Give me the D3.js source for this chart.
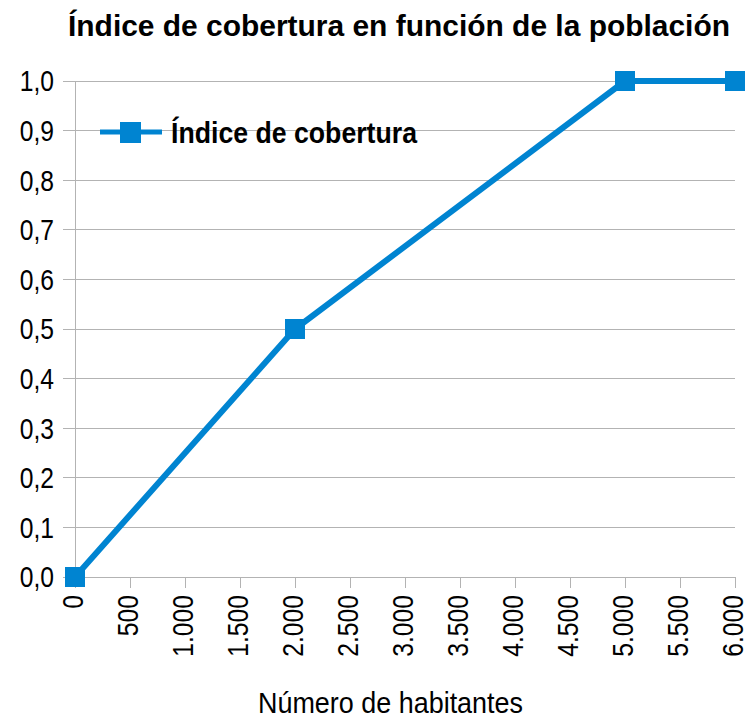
<!DOCTYPE html>
<html><head><meta charset="utf-8">
<script src="https://cdn.jsdelivr.net/npm/d3@7"></script>
<style>body{margin:0;background:#fff}svg{display:block}text{font-family:"Liberation Sans Narrow","Liberation Sans","Arial Narrow",sans-serif}</style>
</head><body>
<script>
const title = "Índice de cobertura en función de la población";
const seriesName = "Índice de cobertura";
const xLabel = "Número de habitantes";
const xValues = [0, 2000, 5000, 6000];
const yValues = [0, 0.5, 1.0, 1.0];
const xTicks = [0,500,1000,1500,2000,2500,3000,3500,4000,4500,5000,5500,6000];
const yTicks = [0,0.1,0.2,0.3,0.4,0.5,0.6,0.7,0.8,0.9,1.0];

const W = 749, H = 722;
const svg = d3.select("body").append("svg").attr("width", W).attr("height", H);
const x = d3.scaleLinear().domain([0, 6000]).range([75, 735]);
const y = d3.scaleLinear().domain([0, 1]).range([577, 81]);
const color = "#0084d1";
const fmtX = d3.formatLocale({decimal:",", thousands:".", grouping:[3], currency:["",""]}).format(",d");
const fmtY = v => d3.format(".1f")(v).replace(".", ",");
const SX = 0.85;

// gridlines
svg.append("g").selectAll("line").data(yTicks).join("line")
  .attr("x1", 63).attr("x2", 735).attr("y1", d => y(d)).attr("y2", d => y(d))
  .attr("stroke", "#b3b3b3").attr("stroke-width", 1).attr("shape-rendering","crispEdges");
// y axis line
svg.append("line").attr("x1", 75).attr("x2", 75).attr("y1", y(1)).attr("y2", y(0))
  .attr("stroke", "#b3b3b3").attr("shape-rendering","crispEdges");
// x ticks
svg.append("g").selectAll("line").data(xTicks).join("line")
  .attr("x1", d => x(d)).attr("x2", d => x(d)).attr("y1", y(0)).attr("y2", y(0) + 11)
  .attr("stroke", "#b3b3b3").attr("shape-rendering","crispEdges");
// y labels
svg.append("g").selectAll("text").data(yTicks).join("text")
  .attr("transform", d => `translate(54,${y(d)}) scale(${SX},1)`)
  .attr("dy", "0.36em").attr("text-anchor", "end")
  .attr("font-size", 29).attr("fill", "#000").text(fmtY);
// x labels
svg.append("g").selectAll("text").data(xTicks).join("text")
  .attr("transform", d => `translate(${x(d)},595) rotate(-90) scale(${SX},1)`)
  .attr("dy", "0.29em").attr("text-anchor", "end")
  .attr("font-size", 29).attr("fill", "#000").text(d => fmtX(d));
// x axis title
svg.append("text").attr("x", 258).attr("y", 713)
  .attr("textLength", 265).attr("lengthAdjust", "spacingAndGlyphs")
  .attr("font-size", 30).text(xLabel);
// title
svg.append("text").attr("x", 68).attr("y", 36)
  .attr("textLength", 662).attr("lengthAdjust", "spacingAndGlyphs")
  .attr("font-size", 30).attr("font-weight", "bold").text(title);

// line
const pts = xValues.map((v, i) => [v, yValues[i]]);
svg.append("path").datum(pts)
  .attr("d", d3.line().x(d => x(d[0])).y(d => y(d[1])))
  .attr("fill", "none").attr("stroke", color).attr("stroke-width", 6).attr("stroke-linejoin","round");
svg.append("g").selectAll("rect").data(pts).join("rect")
  .attr("x", d => x(d[0]) - 10).attr("y", d => y(d[1]) - 10)
  .attr("width", 20).attr("height", 20).attr("fill", color);

// legend
const ly = 132;
svg.append("line").attr("x1", 100).attr("x2", 162).attr("y1", ly).attr("y2", ly)
  .attr("stroke", color).attr("stroke-width", 5);
svg.append("rect").attr("x", 120).attr("y", ly - 10).attr("width", 21).attr("height", 21).attr("fill", color);
svg.append("text").attr("x", 171).attr("y", 143)
  .attr("textLength", 246).attr("lengthAdjust", "spacingAndGlyphs")
  .attr("font-size", 30).attr("font-weight", "bold").text(seriesName);
</script>
</body></html>
